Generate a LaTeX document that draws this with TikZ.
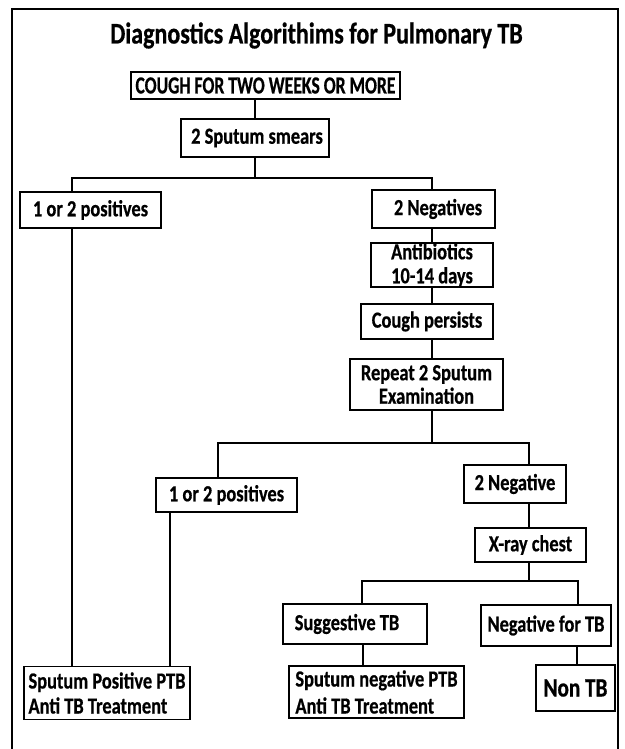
\documentclass[tikz,border=0pt]{standalone}
\usepackage{fontspec}
\newfontfamily\diafont[FakeStretch=0.8,BoldFeatures={FakeBold=0.6}]{Carlito}
\begin{document}
\begin{tikzpicture}[x=1pt,y=-1pt,
  box/.style={draw, line width=1.5pt, inner sep=0pt, align=center,
    font=\diafont\bfseries\fontsize{23}{24}\selectfont},
  lbox/.style={box, align=left},
  link/.style={line width=1.3pt}]
\useasboundingbox (0,0) rectangle (624,749);
\draw[line width=1.6pt] (12,760) -- (12,9) -- (618,9) -- (618,760);
\node[anchor=base, inner sep=0pt, font=\diafont\bfseries\fontsize{30}{32}\selectfont] (title) at (316.5,43.5) {Diagnostics Algorithims for Pulmonary TB};

\node[box, minimum width=269, minimum height=27, font=\diafont\bfseries\fontsize{24.5}{26}\selectfont] (cough) at (265.5,85.5) {\scalebox{0.9}[1]{COUGH FOR TWO WEEKS OR MORE}};
\node[box, minimum width=148, minimum height=38] (smear) at (255,138) {\hspace{4pt}2 Sputum smears};
\node[box, minimum width=141, minimum height=36] (pos1) at (90.5,210) {1 or 2 positives};
\node[box, minimum width=123, minimum height=38] (neg1) at (433.5,209) {\hspace{9pt}2 Negatives};
\node[box, minimum width=122, minimum height=44] (anti) at (432,265) {Antibiotics\\10-14 days};
\node[box, minimum width=132, minimum height=35] (persist) at (427,321.5) {Cough persists};
\node[box, minimum width=153, minimum height=51, font=\diafont\bfseries\fontsize{23}{23.5}\selectfont] (repeat) at (426.5,384.5) {Repeat 2 Sputum\\Examination};
\node[box, minimum width=141, minimum height=34] (pos2) at (226.5,495) {1 or 2 positives};
\node[box, minimum width=102, minimum height=38] (neg2) at (515,484) {2 Negative};
\node[box, minimum width=111, minimum height=34] (xray) at (530.5,545) {X-ray chest};
\node[box, minimum width=144, minimum height=40] (sugg) at (355,624) {Suggestive TB\hspace{16pt}};
\node[box, minimum width=130, minimum height=41] (negtb) at (546,625.5) {Negative for TB};
\node[lbox, minimum width=175, minimum height=52, font=\diafont\bfseries\fontsize{23}{27}\selectfont] (sneg) at (376.5,692) {Sputum negative PTB\\Anti TB Treatment};
\node[box, minimum width=79, minimum height=46, font=\diafont\bfseries\fontsize{26.5}{28}\selectfont] (nontb) at (575.5,688) {Non TB};
\node[lbox, minimum width=166, minimum height=53, font=\diafont\bfseries\fontsize{23}{25}\selectfont] (spos) at (107,693) {Sputum Positive PTB\\Anti TB Treatment};

\coordinate (j1) at (255,178);
\coordinate (j2) at (432,443);
\coordinate (j3) at (529,581);

\draw[link] (cough.south -| smear.north) -- (smear.north);
\draw[link] (smear.south) -- (j1);
\draw[link] (pos1.north -| 72,0) |- (j1) -| (neg1.north -| 432,0);
\draw[link] (pos1.south -| 72,0) -- (spos.north -| 72,0);
\draw[link] (neg1.south -| 432,0) -- (anti.north -| 432,0);
\draw[link] (anti.south -| 432,0) -- (persist.north -| 432,0);
\draw[link] (persist.south -| 432,0) -- (repeat.north -| 432,0);
\draw[link] (repeat.south -| 432,0) -- (j2);
\draw[link] (pos2.north -| 218,0) |- (j2) -| (neg2.north -| 529,0);
\draw[link] (pos2.south -| 170,0) -- (spos.north -| 170,0);
\draw[link] (neg2.south -| 529,0) -- (xray.north -| 529,0);
\draw[link] (xray.south -| 529,0) -- (j3);
\draw[link] (sugg.north -| 362,0) |- (j3) -| (negtb.north -| 578,0);
\draw[link] (sugg.south -| 363,0) -- (sneg.north -| 363,0);
\draw[link] (negtb.south -| 577,0) -- (nontb.north -| 577,0);
\end{tikzpicture}
\end{document}
